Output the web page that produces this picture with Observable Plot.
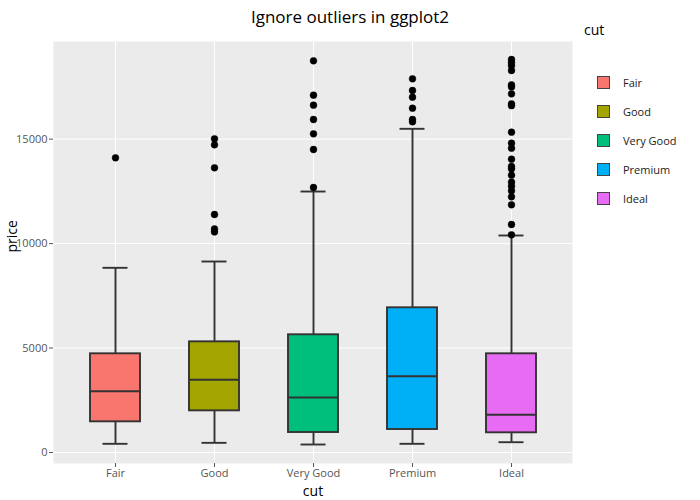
<!DOCTYPE html>
<html>
<head>
<meta charset="utf-8">
<script src="https://cdn.jsdelivr.net/npm/d3@7"></script>
<script src="https://cdn.jsdelivr.net/npm/@observablehq/plot@0.6"></script>
<style>
  html, body { margin: 0; padding: 0; background: #fff; }
  #wrap { position: relative; width: 700px; height: 500px; font-family: "Open Sans", sans-serif; }
  #title { position: absolute; left: 0; width: 700px; top: 4px; text-align: center; font-size: 17px; color: #000; line-height: 26px; }
  #legend { position: absolute; left: 0; top: 0; }
  .lg-title { position: absolute; left: 584px; top: 20px; font-size: 14px; line-height: 20px; color: #000; }
  .lg-item { position: absolute; left: 597px; height: 14px; }
  .lg-sw { position: absolute; left: 0; top: 0; width: 11px; height: 11px; border: 1.5px solid #444; }
  .lg-lab { position: absolute; left: 26px; top: -2px; font-size: 11px; line-height: 18px; color: #222; white-space: nowrap; }
</style>
</head>
<body>
<div id="wrap">
  <div id="chart"></div>
  <div id="title">Ignore outliers in ggplot2</div>
  <div id="legend"></div>
</div>
<script>
const cuts = ["Fair", "Good", "Very Good", "Premium", "Ideal"];
const colors = ["#F8766D", "#A3A500", "#00BF7D", "#00B0F6", "#E76BF3"];
const lower = [416, 463, 383, 416, 493];
const q1 = [1469, 1994, 957, 1101, 943];
const median = [2934, 3479, 2632, 3653, 1804];
const q3 = [4724, 5297, 5634, 6926, 4724];
const upper = [8840, 9142, 12492, 15493, 10387];
const outFair = [14105];
const outGood = [15015, 14727, 13627, 11391, 10700, 10560];
const outVeryGood = [18748, 17103, 16625, 15938, 15253, 14502, 12684];
const outPremium = [17886, 17326, 17006, 16479, 15938, 15828];
const outIdeal = [18810, 18666, 18520, 18283, 17597, 17500, 17166, 16688, 16600, 15332, 14805, 14565, 14039, 13689, 13579, 13273, 12938, 12746, 12526, 12238, 11856, 10913, 10420];
const yTicks = [0, 5000, 10000, 15000];

const stats = cuts.map((c, i) => ({cut: c, lo: lower[i], q1: q1[i], med: median[i], q3: q3[i], hi: upper[i]}));
const outLists = [outFair, outGood, outVeryGood, outPremium, outIdeal];
const outliers = cuts.flatMap((c, i) => outLists[i].map(v => ({cut: c, price: v})));

const line = "#333333";
const plot = Plot.plot({
  width: 700,
  height: 500,
  marginTop: 41,
  marginBottom: 37,
  marginLeft: 53,
  marginRight: 128,
  style: {fontFamily: "Open Sans, sans-serif", fontSize: "11px", background: "#fff"},
  x: {type: "band", domain: cuts, paddingInner: 0.5, paddingOuter: 0.35, label: null},
  y: {domain: [-526, 19672], label: null},
  color: {domain: cuts, range: colors},
  marks: [
    Plot.frame({fill: "#ebebeb", stroke: "none"}),
    Plot.gridY(yTicks, {stroke: "#fff", strokeOpacity: 1, strokeWidth: 1}),
    Plot.gridX(cuts, {stroke: "#fff", strokeOpacity: 1, strokeWidth: 1}),
    Plot.axisY(yTicks, {tickSize: 4, tickPadding: 2, tickFormat: d3.format("d"), color: "#555", label: null, fontSize: 11}),
    Plot.axisX({tickSize: 4, tickPadding: 2, color: "#555", label: null, fontSize: 11}),
    Plot.ruleX(stats, {x: "cut", y1: "lo", y2: "hi", stroke: line, strokeWidth: 1.9}),
    Plot.tickY(stats, {x: "cut", y: "lo", stroke: line, strokeWidth: 1.9, insetLeft: 12.5, insetRight: 12.5}),
    Plot.tickY(stats, {x: "cut", y: "hi", stroke: line, strokeWidth: 1.9, insetLeft: 12.5, insetRight: 12.5}),
    Plot.barY(stats, {x: "cut", y1: "q1", y2: "q3", fill: "cut", stroke: line, strokeWidth: 1.9}),
    Plot.tickY(stats, {x: "cut", y: "med", stroke: line, strokeWidth: 1.9}),
    Plot.dot(outliers, {x: "cut", y: "price", r: 3.4, fill: "#000", stroke: "#000", strokeWidth: 0.5}),
    Plot.text(["price"], {frameAnchor: "left", rotate: -90, dx: -41, fontSize: 14, fill: "#000", text: d => d}),
    Plot.text(["cut"], {frameAnchor: "bottom", lineAnchor: "middle", dy: 28, fontSize: 14, fill: "#000", text: d => d})
  ]
});
document.getElementById("chart").appendChild(plot);

const legend = document.getElementById("legend");
const lt = document.createElement("div");
lt.className = "lg-title";
lt.textContent = "cut";
legend.appendChild(lt);
cuts.forEach((c, i) => {
  const item = document.createElement("div");
  item.className = "lg-item";
  item.style.top = (76 + i * 29) + "px";
  const sw = document.createElement("div");
  sw.className = "lg-sw";
  sw.style.background = colors[i];
  const lab = document.createElement("div");
  lab.className = "lg-lab";
  lab.textContent = c;
  item.appendChild(sw);
  item.appendChild(lab);
  legend.appendChild(item);
});
</script>
</body>
</html>
